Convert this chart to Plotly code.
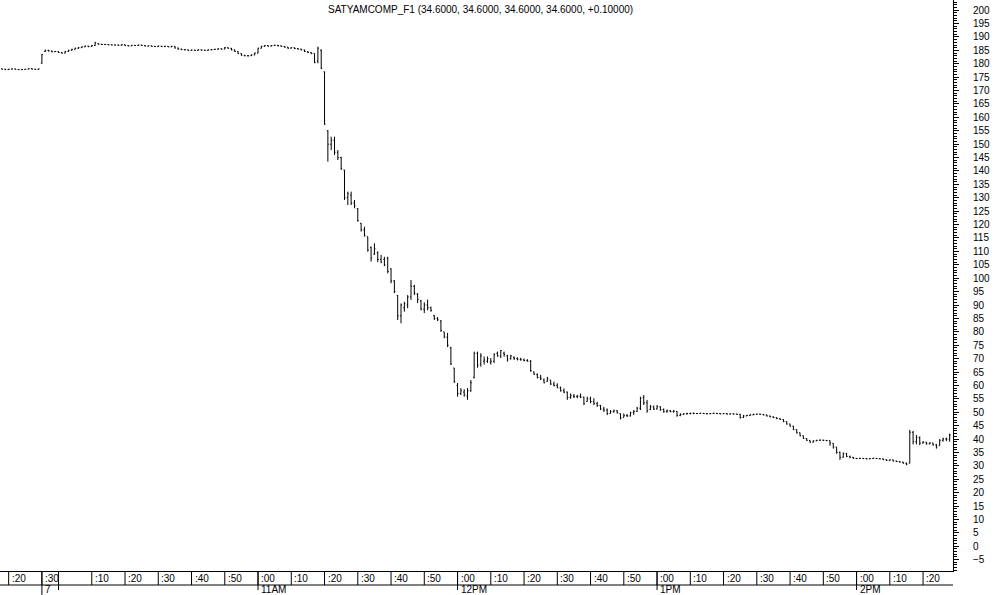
"""Intraday minute bars for SATYAMCOMP_F1 (prev-day close + 7th session), plotly OHLC."""
import plotly.graph_objects as go

FONT = "Liberation Sans"
TITLE = "SATYAMCOMP_F1 (34.6000, 34.6000, 34.6000, 34.6000, +0.10000)"

# minute index: 0 = first bar of the 7th (9:55), negatives = previous session tail
bar_minutes = list(range(-12, 274))

opens = [
    178.1, 178.0, 177.8, 178.0, 178.1, 177.9, 177.8, 177.9, 178.0, 178.2, 178.0, 177.9,
    180.2, 184.6, 185.0, 184.8, 184.5, 184.6, 184.2, 184.0, 184.6, 185.0,
    185.4, 185.8, 186.0, 186.3, 186.6, 186.4, 186.8, 187.6, 187.3, 187.2,
    187.2, 187.1, 187.0, 187.0, 186.9, 187.1, 186.8, 186.7, 186.9, 186.8,
    187.0, 186.8, 186.6, 186.7, 186.5, 186.4, 186.6, 186.4, 186.5, 186.3,
    186.5, 185.9, 185.5, 185.3, 185.2, 185.0, 185.1, 185.0, 185.2, 185.1,
    185.0, 185.2, 185.3, 185.4, 185.6, 185.5, 186.0, 185.8, 185.2, 184.6,
    183.8, 183.2, 183.0, 183.0, 183.3, 184.0, 185.8, 186.5, 186.8, 186.6,
    186.8, 186.9, 186.7, 186.5, 186.2, 185.8, 186.0, 185.7, 185.5, 185.2,
    184.6, 184.2, 183.8, 181.0, 185.0, 177.0, 155.0, 150.0, 151.5, 147.0,
    145.0, 140.4, 130.0, 131.0, 128.0, 126.0, 120.5, 118.0, 115.5, 111.5,
    109.0, 109.5, 107.0, 107.0, 107.5, 103.5, 99.0, 93.5, 86.0, 89.0,
    90.0, 93.0, 97.0, 94.0, 91.5, 88.5, 90.0, 89.0, 86.0, 85.0,
    84.0, 80.0, 78.0, 74.0, 66.5, 60.0, 57.0, 57.5, 56.0, 58.0,
    63.0, 72.0, 68.0, 69.0, 69.0, 68.5, 69.0, 72.0, 71.0, 72.0,
    71.0, 70.0, 70.5, 70.0, 69.8, 69.5, 69.3, 69.0, 65.0, 64.0,
    63.0, 62.0, 61.5, 62.0, 60.5, 60.0, 59.0, 58.0, 57.5, 55.5,
    56.0, 55.8, 56.0, 55.6, 54.0, 55.0, 54.0, 53.2, 52.5, 51.2,
    50.8, 49.5, 50.2, 50.5, 49.5, 48.0, 48.8, 48.6, 49.8, 50.3,
    51.5, 55.5, 53.5, 51.0, 52.0, 51.2, 52.0, 51.0, 50.2, 50.5,
    50.2, 50.3, 48.8, 49.2, 49.4, 49.5, 49.6, 49.5, 49.5, 49.6,
    49.5, 49.4, 49.5, 49.6, 49.5, 49.4, 49.5, 49.3, 49.4, 49.3,
    49.2, 48.0, 48.6, 48.8, 49.0, 49.2, 49.3, 49.2, 49.0, 48.6,
    48.3, 48.0, 47.6, 47.3, 46.5, 45.6, 44.8, 43.5, 42.3, 41.2,
    40.2, 39.5, 38.8, 39.3, 39.5, 39.6, 39.5, 39.4, 38.4, 37.0,
    35.0, 33.2, 34.5, 33.5, 33.2, 32.8, 32.7, 32.8, 32.7, 32.6,
    32.7, 32.8, 32.7, 32.6, 32.3, 32.0, 32.2, 31.8, 31.6, 31.4,
    31.0, 31.0, 42.5, 39.0, 40.5, 38.5, 38.8, 38.2, 38.5, 37.8,
    37.5, 39.5, 40.0, 40.0,
]

highs = [
    178.2, 178.1, 178.1, 178.2, 178.2, 178.0, 178.0, 178.1, 178.3, 178.3, 178.1, 178.2,
    183.6, 185.3, 185.2, 184.9, 184.8, 184.7, 184.3, 184.8, 185.2, 185.6,
    186.0, 186.2, 186.5, 186.8, 186.7, 187.0, 188.2, 187.6, 187.4, 187.4,
    187.3, 187.2, 187.2, 187.1, 187.3, 187.2, 186.9, 187.0, 187.0, 187.2,
    187.1, 186.9, 186.8, 186.8, 186.6, 186.8, 186.7, 186.7, 186.6, 186.7,
    186.6, 186.0, 185.6, 185.4, 185.3, 185.3, 185.2, 185.4, 185.3, 185.2,
    185.4, 185.5, 185.6, 185.8, 185.7, 186.3, 186.1, 185.9, 185.3, 184.7,
    183.9, 183.3, 183.2, 183.5, 184.2, 186.0, 186.7, 187.0, 186.9, 187.0,
    187.1, 187.0, 186.8, 186.6, 186.3, 186.2, 186.1, 185.8, 185.6, 185.3,
    184.7, 184.3, 183.9, 186.4, 185.4, 177.1, 155.3, 152.8, 152.8, 147.8,
    145.3, 140.4, 132.3, 132.3, 129.2, 126.2, 120.6, 119.2, 115.5, 111.8,
    113.0, 110.0, 108.7, 108.0, 108.0, 103.7, 99.3, 93.7, 90.6, 91.2,
    93.7, 99.3, 97.5, 94.5, 91.9, 91.0, 92.0, 89.4, 86.3, 85.5,
    84.4, 80.0, 79.6, 74.4, 66.5, 60.9, 59.0, 58.6, 59.0, 62.0,
    72.6, 72.6, 72.0, 70.8, 70.8, 70.2, 72.0, 72.6, 73.2, 72.6,
    71.4, 71.4, 70.8, 70.5, 70.3, 70.0, 69.8, 69.5, 65.1, 64.5,
    63.9, 62.6, 63.2, 62.0, 61.4, 60.8, 59.6, 58.9, 57.7, 57.0,
    56.8, 56.5, 57.0, 55.8, 55.8, 55.8, 55.2, 53.9, 52.7, 52.0,
    51.4, 50.8, 51.0, 50.8, 49.5, 49.5, 49.3, 50.2, 50.8, 52.0,
    55.8, 56.4, 54.6, 52.7, 52.5, 52.7, 52.2, 51.4, 51.0, 50.8,
    50.8, 50.4, 49.6, 49.6, 49.8, 49.8, 49.9, 49.7, 49.8, 49.7,
    49.6, 49.7, 49.8, 49.7, 49.6, 49.7, 49.6, 49.6, 49.5, 49.4,
    49.4, 49.0, 49.0, 49.2, 49.4, 49.5, 49.4, 49.3, 49.1, 48.7,
    48.4, 48.1, 47.7, 47.4, 46.6, 45.7, 44.9, 43.6, 42.4, 41.3,
    40.3, 39.6, 39.5, 39.7, 39.8, 39.7, 39.6, 39.5, 38.4, 37.0,
    35.3, 35.0, 34.8, 33.8, 33.3, 32.9, 33.0, 32.9, 32.8, 32.9,
    33.0, 32.9, 32.8, 32.7, 32.4, 32.4, 32.3, 31.9, 31.7, 31.5,
    31.2, 43.4, 43.0, 41.5, 41.0, 39.2, 38.9, 38.8, 38.6, 38.2,
    40.0, 40.5, 40.5, 42.0,
]

lows = [
    177.9, 177.7, 177.7, 177.9, 177.8, 177.7, 177.7, 177.8, 177.9, 177.9, 177.8, 177.8,
    180.0, 184.4, 184.6, 184.3, 184.4, 184.1, 183.8, 183.9, 184.5, 184.9,
    185.3, 185.6, 185.9, 186.2, 186.2, 186.3, 186.7, 187.1, 187.0, 187.1,
    186.9, 186.9, 186.9, 186.7, 186.8, 186.7, 186.5, 186.6, 186.7, 186.7,
    186.7, 186.5, 186.5, 186.4, 186.3, 186.3, 186.3, 186.3, 186.2, 186.2,
    185.7, 185.3, 185.1, 185.0, 184.8, 184.9, 184.8, 184.9, 184.9, 184.8,
    184.9, 185.1, 185.2, 185.3, 185.3, 185.4, 185.6, 185.0, 184.4, 183.6,
    183.0, 182.8, 182.7, 182.9, 183.2, 183.9, 185.7, 186.4, 186.4, 186.5,
    186.7, 186.5, 186.3, 186.0, 185.6, 185.7, 185.5, 185.3, 185.0, 184.4,
    184.0, 183.6, 180.2, 180.2, 178.0, 157.2, 143.5, 147.8, 146.0, 144.1,
    140.4, 129.2, 127.3, 127.3, 126.1, 121.1, 117.4, 115.5, 109.9, 106.2,
    108.7, 106.0, 105.6, 104.5, 101.8, 98.1, 94.4, 84.4, 83.2, 87.5,
    88.8, 91.9, 93.7, 90.7, 88.0, 87.0, 88.0, 87.5, 84.4, 84.0,
    80.0, 77.6, 74.3, 67.6, 60.9, 55.8, 56.4, 55.8, 54.6, 57.6,
    62.6, 66.6, 67.0, 67.8, 68.4, 67.8, 68.4, 70.7, 70.2, 70.7,
    68.9, 69.6, 69.5, 69.3, 69.2, 69.0, 68.9, 65.1, 63.9, 62.6,
    62.0, 60.8, 61.4, 60.2, 59.6, 58.9, 57.7, 57.1, 54.6, 55.0,
    55.3, 55.2, 55.3, 52.7, 53.9, 53.3, 52.7, 52.0, 50.8, 50.1,
    48.9, 49.5, 49.8, 49.5, 47.3, 48.0, 48.2, 48.4, 49.0, 50.1,
    50.8, 52.7, 49.8, 50.8, 50.8, 51.0, 50.5, 49.8, 49.8, 50.0,
    49.8, 48.3, 48.5, 49.0, 49.1, 49.2, 49.3, 49.3, 49.4, 49.3,
    49.2, 49.3, 49.4, 49.3, 49.2, 49.3, 49.1, 49.2, 49.1, 49.0,
    47.6, 47.9, 48.5, 48.7, 48.9, 49.1, 49.0, 48.8, 48.4, 48.1,
    47.8, 47.4, 47.1, 46.3, 45.4, 44.6, 43.3, 42.1, 41.0, 40.0,
    39.3, 38.6, 38.7, 39.2, 39.4, 39.3, 39.2, 37.5, 36.4, 34.5,
    32.2, 33.0, 33.2, 32.8, 32.6, 32.5, 32.6, 32.5, 32.4, 32.5,
    32.6, 32.5, 32.4, 32.1, 31.8, 31.9, 31.6, 31.4, 31.2, 30.8,
    30.2, 30.9, 38.0, 38.0, 37.7, 38.3, 37.9, 38.0, 37.5, 36.4,
    37.5, 39.0, 39.2, 39.0,
]

closes = [
    178.0, 177.8, 178.0, 178.1, 177.9, 177.8, 177.9, 178.0, 178.2, 178.0, 177.9, 178.1,
    183.4, 185.0, 184.8, 184.5, 184.6, 184.2, 184.0, 184.6, 185.0, 185.4,
    185.8, 186.0, 186.3, 186.6, 186.4, 186.8, 187.8, 187.3, 187.2, 187.2,
    187.1, 187.0, 187.0, 186.9, 187.1, 186.8, 186.7, 186.9, 186.8, 187.0,
    186.8, 186.6, 186.7, 186.5, 186.4, 186.6, 186.4, 186.5, 186.3, 186.5,
    185.9, 185.5, 185.3, 185.2, 185.0, 185.1, 185.0, 185.2, 185.1, 185.0,
    185.2, 185.3, 185.4, 185.6, 185.5, 186.0, 185.8, 185.2, 184.6, 183.8,
    183.2, 183.0, 183.0, 183.3, 184.0, 185.8, 186.5, 186.8, 186.6, 186.8,
    186.9, 186.7, 186.5, 186.2, 185.8, 186.0, 185.7, 185.5, 185.2, 184.6,
    184.2, 183.8, 180.5, 185.8, 178.3, 157.5, 150.0, 151.5, 147.0, 145.0,
    141.0, 130.0, 131.5, 128.0, 127.0, 121.5, 118.0, 116.0, 110.5, 107.5,
    111.0, 107.0, 106.0, 105.0, 102.5, 99.0, 95.0, 86.0, 90.0, 90.5,
    93.0, 97.0, 94.5, 92.0, 88.5, 90.0, 89.0, 88.0, 85.0, 84.5,
    80.5, 78.0, 75.0, 68.0, 61.5, 57.0, 58.0, 56.5, 58.0, 61.0,
    72.0, 67.5, 71.0, 69.5, 70.0, 69.0, 71.5, 71.0, 73.0, 71.5,
    69.5, 71.0, 70.0, 69.8, 69.6, 69.3, 69.0, 65.5, 64.2, 63.0,
    62.5, 61.0, 62.5, 60.5, 60.0, 59.2, 58.0, 57.5, 55.5, 56.2,
    55.8, 56.0, 55.6, 53.2, 55.0, 54.0, 53.2, 52.5, 51.2, 50.8,
    49.5, 50.2, 50.5, 49.8, 47.8, 48.8, 48.6, 49.8, 50.3, 51.5,
    55.2, 53.5, 50.5, 52.0, 51.2, 52.0, 51.0, 50.2, 50.5, 50.2,
    50.4, 48.8, 49.2, 49.4, 49.5, 49.6, 49.5, 49.5, 49.6, 49.5,
    49.4, 49.5, 49.6, 49.5, 49.4, 49.5, 49.3, 49.4, 49.3, 49.2,
    48.0, 48.6, 48.8, 49.0, 49.2, 49.3, 49.2, 49.0, 48.6, 48.3,
    48.0, 47.6, 47.3, 46.5, 45.6, 44.8, 43.5, 42.3, 41.2, 40.2,
    39.5, 38.8, 39.3, 39.5, 39.6, 39.5, 39.4, 38.5, 37.0, 35.0,
    33.2, 34.5, 33.5, 33.2, 32.8, 32.7, 32.8, 32.7, 32.6, 32.7,
    32.8, 32.7, 32.6, 32.3, 32.0, 32.2, 31.8, 31.6, 31.4, 31.0,
    30.6, 42.5, 39.0, 40.5, 38.5, 38.8, 38.2, 38.5, 37.8, 37.0,
    39.5, 40.0, 40.0, 41.5,
]

# time axis labels (bar_minutes positions)
tick_minutes = [-10, 0, 15, 25, 35, 45, 55, 65, 75, 85, 95, 105, 115, 125,
                135, 145, 155, 165, 175, 185, 195, 205, 215, 225, 235, 245, 255, 265]
tick_labels = [":20", ":30", ":10", ":20", ":30", ":40", ":50", ":00", ":10", ":20",
               ":30", ":40", ":50", ":00", ":10", ":20", ":30", ":40", ":50", ":00",
               ":10", ":20", ":30", ":40", ":50", ":00", ":10", ":20"]
hour_minutes = [5, 65, 125, 185, 245]
hour_labels = ["", "11AM", "12PM", "1PM", "2PM"]
day_minute = 0
day_label = "7"

assert len(opens) == len(highs) == len(lows) == len(closes) == len(bar_minutes)


def _vline(x, length):
    # short line hanging below the plot bottom, length in px
    return dict(type="line", xref="x", x0=x, x1=x, yref="paper", ysizemode="pixel",
                yanchor=0, y0=0, y1=-length, line=dict(color="black", width=1))


def _label(x, text, yshift):
    return dict(x=x, xref="x", y=0, yref="paper", text=text, showarrow=False,
                xanchor="left", yanchor="middle", xshift=1, yshift=yshift,
                font=dict(family=FONT, size=10, color="black"))


fig = go.Figure()
fig.add_trace(go.Ohlc(
    x=bar_minutes, open=opens, high=highs, low=lows, close=closes,
    increasing=dict(line=dict(color="black", width=1)),
    decreasing=dict(line=dict(color="black", width=1)),
    tickwidth=0.3, showlegend=False, hoverinfo="skip",
))

shapes = [dict(type="line", xref="paper", x0=0, x1=1, yref="paper", ysizemode="pixel",
               yanchor=0, y0=-14, y1=-14, line=dict(color="black", width=1))]
annotations = []
for m, lab in zip(tick_minutes, tick_labels):
    shapes.append(_vline(m, 14))
    annotations.append(_label(m, lab, -7))
for m, lab in zip(hour_minutes, hour_labels):
    shapes.append(_vline(m, 19))
    if lab:
        annotations.append(_label(m, lab, -18))
shapes.append(_vline(day_minute, 24))
annotations.append(_label(day_minute, day_label, -18))

annotations.append(dict(x=0.504, xref="paper", y=1, yref="paper", yanchor="top",
                        yshift=-2, text=TITLE, showarrow=False,
                        font=dict(family=FONT, size=10, color="black")))

fig.update_layout(
    width=994, height=595,
    margin=dict(l=0, r=41, t=0, b=24),
    paper_bgcolor="white", plot_bgcolor="white",
    shapes=shapes, annotations=annotations,
    xaxis=dict(range=[-12.6, 274.0], showticklabels=False, ticks="", showgrid=False,
               zeroline=False, showline=True, linecolor="black", linewidth=1,
               rangeslider=dict(visible=False), fixedrange=True),
    yaxis=dict(side="right", range=[-9.25, 203.8], tick0=0, dtick=5,
               ticks="outside", ticklen=5, tickcolor="black", showgrid=False,
               zeroline=False, showline=True, linecolor="black", linewidth=1,
               automargin=False, ticklabelstandoff=12,
               tickfont=dict(family=FONT, size=10, color="black"),
               minor=dict(dtick=1, ticks="outside", ticklen=3, tickcolor="black",
                          showgrid=False)),
)

# page body has an 8px default margin; drop it so the figure sits at the corner
fig.write_html("out.html", config={"displayModeBar": False},
               post_script="document.body.style.margin = '0';")
